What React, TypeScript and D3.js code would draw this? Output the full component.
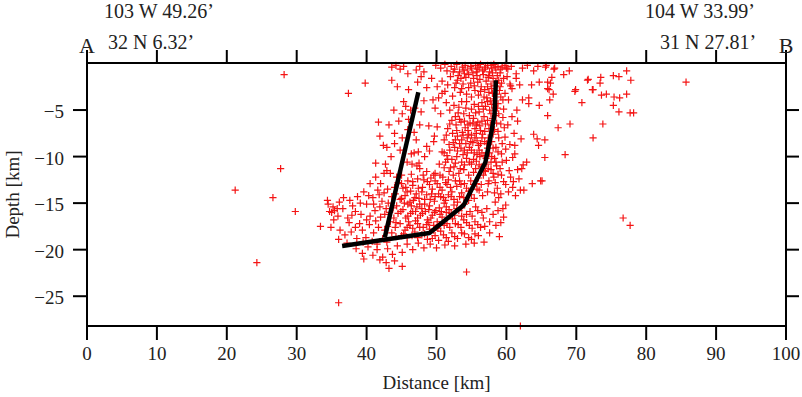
import React from "react";
import * as d3 from "d3";

const xTicks = [0, 10, 20, 30, 40, 50, 60, 70, 80, 90, 100];
const yTicks = [-5, -10, -15, -20, -25];
const topLabels = ["103 W 49.26\u2019", "32 N 6.32\u2019", "104 W 33.99\u2019", "31 N 27.81\u2019"];
const endLabels = ["A", "B"];

// distance [km], depth [km]
const quakes: [number, number][] = [
  // top band
  [43.6,-0.4],[44.2,-0.2],[44.8,-0.6],[45.3,-0.3],[45.9,-1.1],[47.1,-0.7],[47.6,-0.3],[48.2,-0.9],[47.8,-1.4],[49.9,-0.2],
  [50.6,-0.5],[51.2,-0.1],[51.5,-0.8],[52.1,-0.3],[52.6,-0.6],[52.9,-0.1],[53.3,-0.9],[53.7,-0.4],[54.1,-0.2],[54.4,-0.7],
  [54.9,-0.3],[55.2,-1.0],[55.6,-0.2],[55.9,-0.6],[56.3,-0.1],[56.6,-0.8],[57.0,-0.4],[57.3,-0.2],[57.6,-0.9],[57.9,-0.5],
  [58.2,-0.1],[58.5,-0.7],[58.8,-0.3],[59.1,-1.0],[59.4,-0.4],[59.8,-0.2],[60.2,-0.6],[60.0,-0.5],[60.7,-0.3],[61.4,-1.1],
  [62.3,-0.5],[63.0,-0.2],[63.9,-0.8],[64.5,-0.3],[65.7,-0.2],[65.6,-0.4],[66.9,-0.5],[69.0,-0.8],
  // dense top blob
  [55.8,-1.3],[56.2,-1.7],[56.7,-1.2],[57.1,-1.9],[57.4,-1.5],[57.8,-2.2],[58.1,-1.6],[58.4,-2.4],[58.9,-1.8],[59.3,-2.1],
  [56.4,-2.5],[56.9,-2.8],[57.5,-3.1],[57.9,-2.7],[58.6,-3.3],[59.0,-2.9],[55.5,-2.9],[56.0,-3.4],[57.2,-3.7],[57.7,-4.0],
  [58.2,-3.8],[58.8,-4.3],[59.2,-3.6],[56.5,-4.2],[57.0,-4.6],[57.6,-5.0],[58.3,-4.8],[58.9,-5.4],[59.6,-4.9],[56.1,-5.2],
  [56.8,-5.7],[57.3,-6.1],[58.0,-5.9],[58.6,-6.4],[55.4,-4.4],[55.0,-3.6],[54.6,-2.6],[54.2,-1.5],[53.8,-2.2],[53.4,-3.1],
  [53.0,-1.8],[52.6,-2.6],[52.3,-3.5],[52.0,-1.4],[51.6,-2.3],[51.2,-3.0],[50.8,-1.9],[60.1,-1.4],[60.5,-2.2],[59.8,-3.2],[60.3,-3.9],
  [52.4,-0.9],[53.1,-1.3],[53.9,-0.7],[54.6,-1.2],[55.3,-1.6],[55.7,-0.9],[56.9,-0.6],[57.5,-1.3],[58.0,-1.0],[58.7,-1.3],
  [59.2,-0.6],[59.6,-1.6],[58.4,-0.4],[57.8,-0.2],[56.1,-0.4],[55.0,-0.5],[54.0,-1.1],[53.5,-1.6],[52.8,-2.1],[53.6,-2.7],
  [54.3,-3.3],[54.9,-2.1],[55.4,-2.4],[55.9,-2.0],[56.3,-3.0],[56.8,-3.6],[57.3,-2.5],[58.0,-3.2],[58.5,-2.0],[59.1,-2.5],
  [59.5,-3.9],[58.7,-4.8],[57.9,-4.4],[57.3,-4.1],[56.7,-4.9],[56.0,-4.6],[55.6,-5.3],[55.0,-4.9],[54.3,-4.1],[53.9,-5.4],
  [53.2,-4.7],[52.7,-5.7],
  // main column
  [51.4,-4.2],[51.9,-5.0],[52.5,-4.5],[53.1,-5.3],[53.6,-4.1],[54.2,-4.8],[54.7,-5.6],[55.3,-5.9],[52.2,-6.1],[52.8,-6.6],
  [53.5,-6.3],[54.1,-6.9],[54.8,-6.4],[55.5,-7.0],[56.2,-6.7],[56.9,-7.3],[57.5,-7.0],[58.1,-7.6],[51.6,-7.0],[52.3,-7.5],
  [53.0,-7.8],[53.7,-7.4],[54.4,-8.0],[55.0,-7.7],[55.8,-8.3],[56.5,-8.0],[57.2,-8.6],[57.9,-8.4],[58.5,-9.0],[51.1,-8.2],
  [51.8,-8.7],[52.6,-9.0],[53.3,-8.6],[54.0,-9.3],[54.7,-9.0],[55.4,-9.6],[56.1,-9.3],[56.8,-9.9],[57.6,-9.6],[58.3,-10.2],
  [50.8,-9.5],[51.5,-9.9],[52.2,-10.3],[52.9,-10.0],[53.6,-10.6],[54.3,-10.2],[55.0,-10.8],[55.7,-10.5],[56.4,-11.1],[57.1,-10.8],
  [57.8,-11.4],[58.6,-11.0],[50.4,-10.8],[51.1,-11.2],[51.8,-11.6],[52.5,-11.1],[53.2,-11.8],[53.9,-11.4],[54.6,-12.0],[55.3,-11.7],
  [56.0,-12.3],[56.7,-12.0],[57.5,-12.6],[58.2,-12.2],[49.6,-8.4],[50.1,-6.8],[50.6,-5.4],[49.8,-4.8],[50.3,-3.7],
  [55.9,-6.3],[56.6,-7.6],[57.3,-9.1],[56.2,-10.0],[55.6,-11.3],[57.0,-11.6],[56.0,-8.8],[55.2,-8.5],[54.5,-7.2],[53.8,-9.8],
  [52.7,-8.2],[51.3,-10.6],[50.5,-12.0],[54.9,-12.6],[55.7,-12.9],[56.4,-13.0],[57.9,-10.0],[57.4,-12.9],[58.4,-12.8],[58.8,-11.9],
  [53.3,-6.0],[54.0,-6.2],[54.5,-6.6],[55.2,-6.4],[55.7,-7.5],[56.3,-7.2],[57.0,-6.5],[57.7,-6.6],[58.3,-7.1],[58.8,-7.3],
  [59.2,-6.5],[59.4,-8.6],[58.8,-9.5],[58.1,-9.1],[57.4,-8.0],[56.9,-8.4],[56.3,-8.6],[55.5,-8.0],[54.9,-8.4],[54.2,-8.6],
  [53.6,-8.2],[53.0,-9.4],[53.5,-9.1],[54.4,-9.6],[55.0,-9.3],[55.8,-9.8],[56.5,-9.6],[57.1,-10.2],[57.8,-10.6],[58.5,-10.6],
  [58.1,-11.8],[57.4,-11.3],[56.8,-11.5],[56.1,-10.9],[55.3,-10.3],[54.7,-10.6],[54.0,-10.9],[53.4,-11.3],[52.7,-10.7],[52.0,-11.2],
  [51.6,-10.3],[51.1,-9.6],[51.9,-9.3],[52.4,-8.5],[51.4,-7.7],[51.9,-6.5],[52.9,-7.2],[53.8,-7.7],[54.6,-7.6],[55.7,-6.6],
  [56.5,-6.2],[57.8,-5.4],[58.5,-5.6],
  // right of the eastern trace
  [59.5,-5.8],[60.2,-6.6],[60.8,-5.7],[61.1,-7.5],[59.8,-7.9],[60.5,-8.7],[61.2,-8.8],[61.2,-9.7],[59.4,-10.6],[60.4,-11.5],
  [62.9,-10.6],[62.4,-10.9],[62.2,-11.3],[59.6,-12.7],[61.0,-12.7],[62.0,-13.6],[63.7,-12.9],[64.9,-12.6],[62.5,-13.6],[63.9,-7.6],
  [64.4,-8.1],[64.6,-8.8],[64.7,-4.5],[63.2,-4.3],[64.7,-2.0],[65.9,-2.7],[63.2,-3.7],[62.3,-3.9],[60.8,-2.7],[61.9,-2.3],
  [60.6,-2.4],[61.4,-1.6],[63.6,-2.3],[61.5,-5.0],[59.9,-9.2],[60.9,-10.1],[59.2,-14.0],[59.9,-15.2],[59.6,-16.5],[59.0,-18.6],
  [58.7,-13.4],[59.3,-12.0],[58.9,-8.0],[59.7,-6.9],[61.6,-6.2],[62.1,-8.1],[60.3,-13.8],[58.4,-14.9],[58.1,-16.2],[57.6,-17.0],
  [59.3,-9.7],[60.0,-10.4],[59.1,-11.3],[60.6,-12.2],[59.9,-13.0],[58.9,-14.4],[58.3,-13.9],[59.5,-15.6],[58.8,-15.8],[58.5,-17.4],
  [59.2,-17.1],[61.6,-11.4],[61.8,-12.4],[60.9,-13.3],[61.3,-14.2],
  // far east scatter
  [85.7,-2.0],[71.7,-1.7],[73.5,-1.5],[73.4,-2.1],[75.3,-1.3],[76.1,-1.4],[77.2,-0.8],[77.8,-1.8],[72.3,-2.8],[69.8,-3.0],
  [73.6,-3.4],[74.3,-3.3],[75.4,-3.6],[76.2,-3.7],[77.2,-3.3],[70.8,-4.2],[75.3,-4.5],[76.1,-5.2],[77.7,-5.3],[78.2,-5.3],
  [73.8,-6.5],[69.1,-6.5],[67.4,-6.9],[72.4,-8.0],[68.4,-9.8],[65.5,-10.1],[65.5,-8.2],[65.9,-5.6],[66.2,-3.9],[66.7,-3.3],
  [66.1,-2.8],[66.5,-1.5],[66.3,-2.1],[65.9,-2.0],[65.1,-12.6],[71.6,-1.8],[72.4,-2.8],[69.9,-2.8],[66.8,-0.6],[68.2,-1.2],
  // between the traces, lower part
  [44.5,-12.8],[45.2,-13.4],[45.9,-12.6],[46.6,-13.1],[47.3,-12.4],[48.0,-13.3],[48.7,-12.7],[49.4,-13.5],[50.1,-12.9],[50.8,-13.6],
  [51.5,-13.0],[52.2,-13.8],[52.9,-13.2],[53.6,-13.9],[54.3,-13.4],[55.0,-14.1],[55.8,-13.5],[56.6,-14.2],[57.3,-13.8],[44.1,-14.0],
  [44.8,-14.6],[45.5,-14.2],[46.2,-14.9],[46.9,-14.4],[47.6,-15.1],[48.3,-14.6],[49.0,-15.3],[49.7,-14.8],[50.4,-15.5],[51.1,-15.0],
  [51.8,-15.7],[52.5,-15.2],[53.2,-15.8],[54.0,-15.1],[54.8,-15.9],[55.6,-15.4],[56.5,-16.0],[57.2,-15.6],[43.8,-15.5],[44.5,-16.1],
  [45.2,-15.7],[45.9,-16.4],[46.6,-15.9],[47.3,-16.6],[48.0,-16.1],[48.7,-16.8],[49.4,-16.3],[50.1,-17.0],[50.8,-16.5],[51.5,-17.2],
  [52.3,-16.7],[53.1,-17.3],[53.9,-16.8],[54.7,-17.4],[55.5,-17.0],[56.3,-17.6],[43.4,-17.0],[44.1,-17.6],[44.8,-17.2],[45.5,-17.9],
  [46.2,-17.4],[46.9,-18.1],[47.6,-17.6],[48.3,-18.3],[49.0,-17.8],[49.8,-18.5],[50.6,-18.0],[51.4,-18.7],[52.2,-18.2],[53.0,-18.8],
  [54.0,-18.3],[55.0,-18.9],[56.0,-18.5],
  [50.9,-12.2],[51.7,-12.5],[52.4,-12.0],[53.3,-12.6],[54.0,-12.9],[49.8,-11.8],[49.2,-12.3],[48.6,-11.6],[48.1,-12.0],[47.6,-11.3],
  [50.3,-14.0],[51.0,-14.4],[51.7,-14.1],[52.5,-14.6],[53.3,-14.3],[48.6,-14.1],[49.3,-14.0],[47.9,-13.8],[47.1,-14.0],[46.3,-13.7],
  [45.6,-13.3],[49.7,-16.0],[48.9,-15.7],[47.9,-15.6],[47.2,-15.4],[46.4,-15.3],[45.4,-15.0],[50.5,-16.2],[51.4,-16.0],[52.6,-16.3],
  [53.6,-16.4],[46.0,-17.0],[47.0,-16.9],[48.6,-17.3],[49.6,-17.4],[50.2,-17.7],[45.3,-18.3],[44.2,-18.6],[43.6,-18.2],[47.3,-18.7],
  [48.7,-18.9],[50.3,-19.0],[51.7,-19.1],
  [45.0,-12.9],[45.8,-13.8],[46.6,-12.7],[47.4,-13.4],[48.2,-12.5],[49.0,-13.0],[49.8,-12.6],[50.5,-13.3],[51.3,-12.8],[52.0,-13.3],
  [52.7,-12.6],[53.5,-13.0],[54.6,-13.7],[55.3,-13.0],[56.1,-13.6],[55.4,-14.5],[54.6,-14.7],[53.9,-14.4],[53.0,-14.9],[52.1,-14.3],
  [51.3,-14.7],[50.6,-14.3],[49.8,-14.3],[49.1,-14.6],[48.3,-15.1],[47.5,-14.5],[46.7,-14.7],[45.9,-15.1],[45.0,-14.5],[44.3,-15.3],
  [44.9,-15.9],[45.6,-16.6],[46.3,-16.1],[47.0,-15.9],[47.7,-16.3],[48.4,-15.9],[49.2,-16.6],[49.9,-15.8],[50.7,-15.9],[51.4,-15.4],
  [52.1,-16.1],[52.9,-15.6],[53.6,-15.5],[54.3,-16.2],[55.1,-16.4],[55.9,-15.8],[56.7,-16.6],[55.9,-17.3],[55.1,-17.7],[54.3,-17.1],
  [53.5,-17.6],[52.7,-17.2],[51.9,-17.6],[51.1,-17.4],[50.4,-17.3],[49.6,-17.9],[48.9,-17.1],[48.1,-17.6],[47.3,-17.2],[46.6,-17.7],
  [45.8,-17.6],[45.0,-18.5],[45.8,-18.7],[46.5,-18.5],[47.9,-18.4],[49.4,-18.8],[51.0,-18.4],[52.6,-18.6],[53.6,-18.2],[54.6,-18.7],
  [55.5,-18.3],[43.9,-16.6],[43.3,-16.0],[44.2,-17.1],[43.0,-17.5],[42.6,-17.9],
  // below the basal trace
  [38.5,-19.9],[39.4,-20.4],[40.2,-19.7],[40.9,-20.6],[41.5,-20.0],[42.3,-20.8],[43.0,-19.9],[43.7,-20.5],[44.4,-19.6],[45.1,-20.3],
  [45.8,-19.4],[46.6,-20.0],[47.4,-19.3],[48.2,-19.8],[49.1,-19.4],[50.0,-19.8],[51.2,-19.5],[52.6,-19.6],[54.2,-19.4],[55.4,-19.3],
  [41.9,-21.1],[42.8,-21.4],[44.0,-21.2],[45.1,-21.8],[39.6,-21.0],[43.2,-22.0],[54.3,-22.4],[56.8,-19.2],[57.6,-18.2],[56.9,-17.5],
  [40.8,-19.1],[39.5,-19.2],[41.5,-19.4],[42.9,-19.2],
  // western lower lobe
  [34.4,-14.7],[34.7,-15.9],[36.1,-14.9],[35.9,-16.4],[36.6,-15.6],[37.3,-16.6],[38.0,-15.3],[37.5,-17.1],[38.4,-17.6],[33.4,-17.5],
  [36.2,-17.9],[36.9,-18.4],[37.8,-18.1],[38.6,-18.8],[39.4,-17.9],[39.9,-18.7],[40.4,-17.3],[41.0,-18.2],[41.7,-17.6],[42.3,-18.8],
  [40.5,-16.4],[41.2,-15.8],[39.2,-16.2],[40.0,-15.1],[40.9,-14.4],[41.6,-13.6],[39.6,-13.8],[36.7,-14.4],[37.6,-14.7],[38.7,-14.3],
  [35.3,-16.8],[34.9,-17.6],[36.0,-18.9],[37.2,-19.3],[42.6,-16.2],[43.1,-15.0],[42.2,-14.8],[43.0,-13.5],[42.0,-12.9],[40.5,-12.9],
  [41.3,-12.2],[34.5,-15.1],[35.2,-15.4],[35.4,-15.8],[35.8,-15.6],[35.0,-16.0],
  [41.8,-14.1],[42.5,-13.9],[43.6,-14.3],[44.0,-13.3],[40.3,-14.2],[41.0,-15.1],[41.9,-15.4],[42.8,-15.6],[40.0,-16.8],[41.3,-16.9],
  [42.0,-16.5],[39.1,-15.0],[38.4,-15.9],[37.9,-16.3],[39.0,-17.2],
  // western upper lobe
  [44.4,-2.5],[46.0,-2.8],[43.6,-1.8],[49.5,-3.9],[50.8,-3.2],[45.3,-4.1],[45.6,-4.6],[46.3,-5.0],[45.1,-5.4],[46.9,-4.8],
  [47.8,-5.2],[41.7,-6.3],[43.2,-6.6],[41.9,-7.8],[44.0,-7.5],[44.0,-8.6],[45.1,-8.0],[47.6,-6.6],[48.9,-6.7],[46.8,-7.4],
  [49.7,-7.8],[48.6,-8.9],[46.8,-9.6],[47.4,-9.5],[46.4,-9.7],[44.8,-9.3],[45.8,-10.6],[46.5,-10.8],[47.5,-10.7],[47.2,-11.0],
  [41.3,-10.7],[42.7,-10.8],[42.9,-11.5],[42.5,-11.8],[43.4,-11.8],[44.3,-12.2],[45.0,-12.0],[46.4,-11.9],[49.6,-12.0],[42.9,-9.0],
  [43.5,-10.0],[45.9,-7.1],[47.1,-8.2],[48.3,-10.0],[49.0,-9.4],[48.2,-4.0],[43.9,-5.0],[42.4,-8.8],[44.6,-6.2],[46.0,-6.0],
  [48.6,-2.6],[47.3,-2.0],[49.3,-1.6],[50.1,-2.5],
  // isolated events
  [28.2,-1.2],[37.4,-3.2],[39.8,-2.1],[27.7,-11.3],[21.2,-13.6],[26.6,-14.4],[29.8,-15.9],[24.3,-21.4],[36.0,-25.7],[62.0,-28.2],
  [76.7,-16.6],[77.7,-17.4],
];

// fault traces (distance, depth)
const faultWest: [number, number][] = [[47.4, -3.1], [42.6, -18.7]];
const faultEast: [number, number][] = [
  [58.5, -1.8], [58.3, -5.5], [57.7, -8.0], [57.0, -10.6], [53.9, -15.2], [49.0, -18.2], [36.5, -19.6],
];

const W = 802;
const H = 397;
const left = 87;
const right = 786;
const top = 63;
const bottom = 326;
const FONT = "'Liberation Serif', 'Times New Roman', serif";

export default function App() {
  const x = d3.scaleLinear().domain([0, 100]).range([left, right]);
  const y = d3.scaleLinear().domain([0, -28.2]).range([63.5, bottom]);
  const line = d3
    .line<[number, number]>()
    .x((d) => x(d[0]))
    .y((d) => y(d[1]));
  const fmt = (v: number) => (v < 0 ? "\u2212" + Math.abs(v) : String(v));
  const s = 3.6;

  return (
    <svg
      width={W}
      height={H}
      style={{ position: "absolute", left: 0, top: 0, background: "#fff" }}
      fontFamily={FONT}
    >
      <rect x={0} y={0} width={W} height={H} fill="#fff" />
      {/* quakes */}
      <g stroke="#f41414" strokeWidth={1.2} fill="none">
        {quakes.map((d, i) => {
          const cx = x(d[0]);
          const cy = y(d[1]);
          return (
            <path
              key={i}
              d={`M${cx - s},${cy}H${cx + s}M${cx},${cy - s}V${cy + s}`}
            />
          );
        })}
      </g>
      {/* fault traces */}
      <path d={line(faultWest) || ""} stroke="#000" strokeWidth={4.5} fill="none" strokeLinejoin="round" />
      <path d={line(faultEast) || ""} stroke="#000" strokeWidth={4.5} fill="none" strokeLinejoin="round" />
      {/* frame */}
      <rect x={left} y={top} width={right - left} height={bottom - top} fill="none" stroke="#000" strokeWidth={2} />
      {/* bottom and top ticks */}
      {xTicks.map((t) => (
        <g key={"x" + t}>
          <line x1={x(t)} x2={x(t)} y1={bottom} y2={bottom + 14} stroke="#000" strokeWidth={2} />
          <line x1={x(t)} x2={x(t)} y1={top} y2={top - 13} stroke="#000" strokeWidth={2} />
          <text x={x(t)} y={360} textAnchor="middle" fontSize={19} fill="#222">
            {fmt(t)}
          </text>
        </g>
      ))}
      {/* left and right ticks */}
      {yTicks.map((t) => (
        <g key={"y" + t}>
          <line x1={left - 14} x2={left} y1={y(t)} y2={y(t)} stroke="#000" strokeWidth={2} />
          <line x1={right} x2={right + 13} y1={y(t)} y2={y(t)} stroke="#000" strokeWidth={2} />
          <text x={64} y={y(t) + 8} textAnchor="end" fontSize={19} fill="#222">
            {fmt(t)}
          </text>
        </g>
      ))}
      <text x={(left + right) / 2} y={389} textAnchor="middle" fontSize={19} fill="#222">
        Distance [km]
      </text>
      <text
        transform={`translate(19, ${(top + bottom) / 2}) rotate(-90)`}
        textAnchor="middle"
        fontSize={19}
        fill="#222"
      >
        Depth [km]
      </text>
      {/* profile end labels */}
      <text x={104} y={18} fontSize={20} fill="#222">{topLabels[0]}</text>
      <text x={108} y={49} fontSize={20} fill="#222">{topLabels[1]}</text>
      <text x={645} y={18} fontSize={20} fill="#222">{topLabels[2]}</text>
      <text x={660} y={49} fontSize={20} fill="#222">{topLabels[3]}</text>
      <text x={x(0)} y={53} textAnchor="middle" fontSize={22} fill="#222">{endLabels[0]}</text>
      <text x={x(100)} y={53} textAnchor="middle" fontSize={22} fill="#222">{endLabels[1]}</text>
    </svg>
  );
}
